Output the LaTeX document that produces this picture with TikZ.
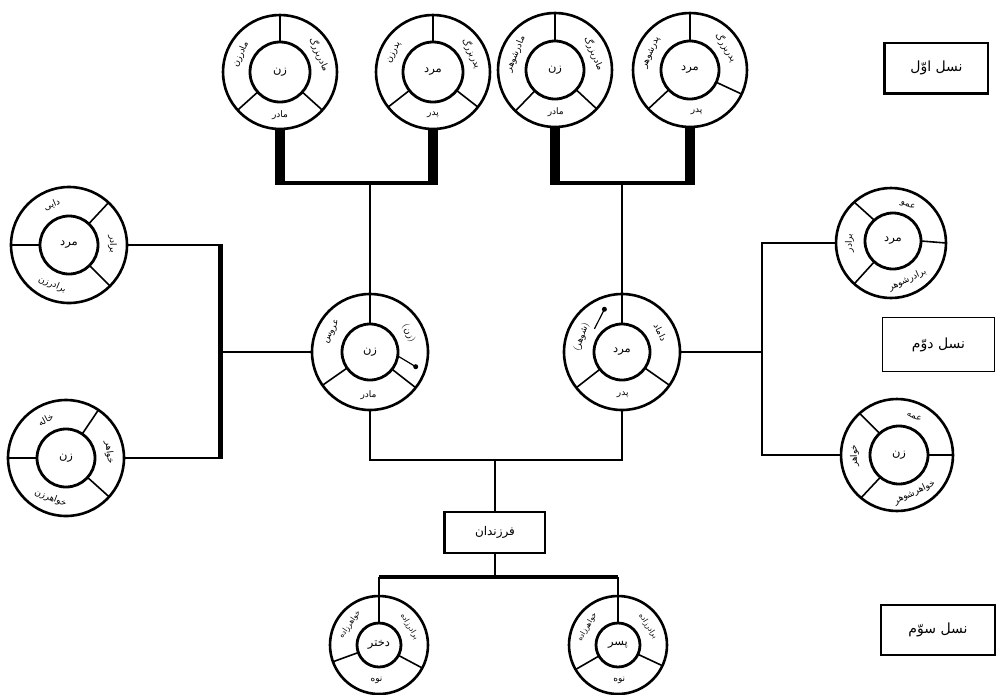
\documentclass[tikz,border=0pt]{standalone}
\usepackage{fontspec}
\newfontfamily\arabicfont[Script=Arabic]{DejaVu Sans}
\TeXXeTstate=1
\newcommand{\prs}[1]{{\arabicfont\beginR #1\endR}}
\begin{document}
\begin{tikzpicture}[x=1pt,y=1pt,
  outring/.style={circle,draw,line width=2.6pt,minimum size=#1,inner sep=0pt,outer sep=0pt},
  inring/.style={circle,draw,line width=2.8pt,minimum size=#1,inner sep=0pt,outer sep=0pt,font=\fontsize{11.5}{12}\selectfont},
  divider/.style={line width=1.6pt},
  lab/.style={inner sep=0pt,font=\fontsize{9}{10}\selectfont},
  slab/.style={inner sep=0pt,font=\fontsize{7.5}{8}\selectfont},
  conn/.style={line width=2pt},
  topbar/.style={line width=10pt},
  hbar/.style={line width=4.5pt},
  genbox/.style={draw,line width=1.6pt,inner sep=0pt,font=\fontsize{14}{15}\selectfont},
  dotnode/.style={circle,fill,inner sep=0pt,minimum size=5pt},
]
\useasboundingbox (0,0) rectangle (996,-694);

% ---------- first generation ----------
\node[outring=114pt] (A) at (280,-72) {};
\node[inring=60pt] (Ain) at (280,-72) {\prs{زن}};
\draw[divider] (Ain.90) -- (A.90) (Ain.222) -- (A.222) (Ain.318) -- (A.318);
\path (A) ++(156:43) node[lab,rotate=66] {\prs{مادرزن}}
      (A) ++(24:43) node[lab,rotate=-66] {\prs{مادربزرگ}}
      (A) ++(270:43) node[lab] {\prs{مادر}};

\node[outring=114pt] (B) at (433,-72) {};
\node[inring=60pt] (Bin) at (433,-72) {\prs{مرد}};
\draw[divider] (Bin.90) -- (B.90) (Bin.218) -- (B.218) (Bin.322) -- (B.322);
\path (B) ++(154:43) node[lab,rotate=64] {\prs{پدرزن}}
      (B) ++(26:43) node[lab,rotate=-64] {\prs{پدربزرگ}}
      (B) ++(270:43) node[lab] {\prs{پدر}};

\node[outring=114pt] (C) at (555,-70) {};
\node[inring=58pt] (Cin) at (555,-70) {\prs{زن}};
\draw[divider] (Cin.90) -- (C.90) (Cin.226) -- (C.226) (Cin.317) -- (C.317);
\path (C) ++(158:42.5) node[lab,rotate=68] {\prs{مادرشوهر}}
      (C) ++(23:42.5) node[lab,rotate=-67] {\prs{مادربزرگ}}
      (C) ++(271:42.5) node[lab] {\prs{مادر}};

\node[outring=114pt] (D) at (690,-70) {};
\node[inring=58pt] (Din) at (690,-70) {\prs{مرد}};
\draw[divider] (Din.90) -- (D.90) (Din.223) -- (D.223) (Din.335) -- (D.335);
\path (D) ++(156:42.5) node[lab,rotate=66] {\prs{پدرشوهر}}
      (D) ++(32:42.5) node[lab,rotate=-58] {\prs{پدربزرگ}}
      (D) ++(279:42.5) node[lab] {\prs{پدر}};

% ---------- second generation ----------
\node[outring=116pt] (Ml) at (370,-352) {};
\node[inring=56pt] (Mlin) at (370,-352) {\prs{زن}};
\draw[divider] (Mlin.215) -- (Ml.215) (Mlin.322) -- (Ml.322);
\path (Ml) ++(152:43) node[lab,rotate=62] {\prs{عروس}}
      (Ml) ++(26:43) node[lab,rotate=-64] {(\prs{زن})}
      (Ml) ++(268:43) node[lab] {\prs{مادر}};
\draw[line width=1.2pt] (Mlin.-8) -- ++(-31:21) node[dotnode] {};

\node[outring=116pt] (Mr) at (622,-352) {};
\node[inring=56pt] (Mrin) at (622,-352) {\prs{مرد}};
\draw[divider] (Mrin.218) -- (Mr.218) (Mrin.325) -- (Mr.325);
\path (Mr) ++(27:43) node[lab,rotate=-63] {\prs{داماد}}
      (Mr) ++(160:43) node[lab,rotate=70] {(\prs{شوهر})}
      (Mr) ++(271:43) node[lab] {\prs{پدر}};
\draw[line width=1.2pt] (Mr) ++(140:36) -- ++(63:22) node[dotnode] {};

\node[outring=116pt] (SLa) at (69,-245) {};
\node[inring=58pt] (SLain) at (69,-245) {\prs{مرد}};
\draw[divider] (SLain.180) -- (SLa.180) (SLain.47) -- (SLa.47) (SLain.315) -- (SLa.315);
\path (SLa) ++(113:43.5) node[lab,rotate=23] {\prs{دایی}}
      (SLa) ++(1:43.5) node[lab,rotate=-89] {\prs{برادر}}
      (SLa) ++(247:43) node[lab,rotate=-23] {\prs{برادرزن}};

\node[outring=116pt] (SLb) at (66,-458) {};
\node[inring=58pt] (SLbin) at (66,-458) {\prs{زن}};
\draw[divider] (SLbin.180) -- (SLb.180) (SLbin.56) -- (SLb.56) (SLbin.318) -- (SLb.318);
\path (SLb) ++(118:43.5) node[lab,rotate=28] {\prs{خاله}}
      (SLb) ++(7:43.5) node[lab,rotate=-83] {\prs{خواهر}}
      (SLb) ++(249:43) node[lab,rotate=-21] {\prs{خواهرزن}};

\node[outring=110pt] (SRa) at (891,-243) {};
\node[inring=56pt] (SRain) at (893,-241) {\prs{مرد}};
\draw[divider] (SRain.0) -- (SRa.0) (SRain.132) -- (SRa.132) (SRain.228) -- (SRa.228);
\path (SRa) ++(66:41.5) node[lab,rotate=-24] {\prs{عمو}}
      (SRa) ++(180:41.5) node[lab,rotate=90] {\prs{برادر}}
      (SRa) ++(294:40.5) node[lab,rotate=24] {\prs{برادرشوهر}};

\node[outring=112pt] (SRb) at (897,-455) {};
\node[inring=58pt] (SRbin) at (899,-455) {\prs{زن}};
\draw[divider] (SRbin.0) -- (SRb.0) (SRbin.132) -- (SRb.132) (SRbin.230) -- (SRb.230);
\path (SRb) ++(66:42.5) node[lab,rotate=-24] {\prs{عمه}}
      (SRb) ++(181:42.5) node[lab,rotate=91] {\prs{خواهر}}
      (SRb) ++(295:41.5) node[lab,rotate=25] {\prs{خواهرشوهر}};

% ---------- third generation ----------
\node[outring=98pt] (BL) at (379,-645) {};
\node[inring=44pt] (BLin) at (379,-645) {\prs{دختر}};
\draw[divider] (BLin.200) -- (BL.200) (BLin.332) -- (BL.332);
\path (BL) ++(145:35.5) node[slab,rotate=55] {\prs{خواهرزاده}}
      (BL) ++(31:35.5) node[slab,rotate=-59] {\prs{برادرزاده}}
      (BL) ++(266:35.5) node[lab] {\prs{نوه}};

\node[outring=98pt] (BR) at (618,-645) {};
\node[inring=44pt] (BRin) at (618,-645) {\prs{پسر}};
\draw[divider] (BRin.210) -- (BR.210) (BRin.335) -- (BR.335);
\path (BR) ++(150:35.5) node[slab,rotate=60] {\prs{خواهرزاده}}
      (BR) ++(32:35.5) node[slab,rotate=-58] {\prs{برادرزاده}}
      (BR) ++(272:35.5) node[lab] {\prs{نوه}};

% ---------- connectors ----------
\coordinate (hL) at (370,-183);
\coordinate (hR) at (622,-183);
\draw[topbar] (A.south) -- (A.south |- hL);
\draw[topbar] (B.south) -- (B.south |- hL);
\draw[hbar] ([xshift=-5pt]A.south |- hL) -- ([xshift=5pt]B.south |- hL);
\draw[conn] (Mlin.north |- hL) -- (Mlin.north);
\draw[topbar] (C.south) -- (C.south |- hR);
\draw[topbar] (D.south) -- (D.south |- hR);
\draw[hbar] ([xshift=-5pt]C.south |- hR) -- ([xshift=5pt]D.south |- hR);
\draw[conn] (Mrin.north |- hR) -- (Mrin.north);

\coordinate (vL) at (220,-350);
\draw[conn] (SLa.east) -- (SLa.east -| vL);
\draw[conn] (SLb.east) -- (SLb.east -| vL);
\draw[line width=5pt] ([yshift=1pt]SLa.east -| vL) -- ([yshift=-1pt]SLb.east -| vL);
\draw[conn] (Ml.west) -- (Ml.west -| vL);

\coordinate (vR) at (762,-350);
\draw[conn] (SRa.west) -- (SRa.west -| vR);
\draw[conn] (SRb.west) -- (SRb.west -| vR);
\draw[line width=2.6pt] ([yshift=1pt]SRa.west -| vR) -- ([yshift=-1pt]SRb.west -| vR);
\draw[conn] (Mr.east) -- (Mr.east -| vR);

\coordinate (hM) at (495,-460);
\draw[conn] (Ml.south) -- (Ml.south |- hM) -- (Mr.south |- hM) -- (Mr.south);
\node[draw,line width=1.6pt,minimum width=100pt,minimum height=41pt,inner sep=0pt,
      font=\fontsize{12}{13}\selectfont] (kids) at (495,-532.5) {\prs{فرزندان}};
\draw[line width=3pt] (kids.north west) -- (kids.south west);
\draw[conn] (hM) -- (kids.north);
\coordinate (hB) at (495,-577);
\draw[conn] (kids.south) -- (hB);
\draw[hbar] (BLin.north |- hB) -- (BRin.north |- hB);
\draw[conn] (BLin.north |- hB) -- (BLin.north);
\draw[conn] (BRin.north |- hB) -- (BRin.north);

% ---------- generation labels ----------
\node[genbox,minimum width=103pt,minimum height=50pt] (g1) at (936.5,-68) {\prs{نسل اوّل}};
\draw[line width=2.6pt] (g1.north west) -- (g1.south west) -- (g1.south east);
\node[genbox,minimum width=112pt,minimum height=54pt] (g2) at (938.5,-344.5) {\prs{نسل دوّم}};
\node[genbox,minimum width=114pt,minimum height=50pt] (g3) at (938,-630) {\prs{نسل سوّم}};
\end{tikzpicture}
\end{document}
